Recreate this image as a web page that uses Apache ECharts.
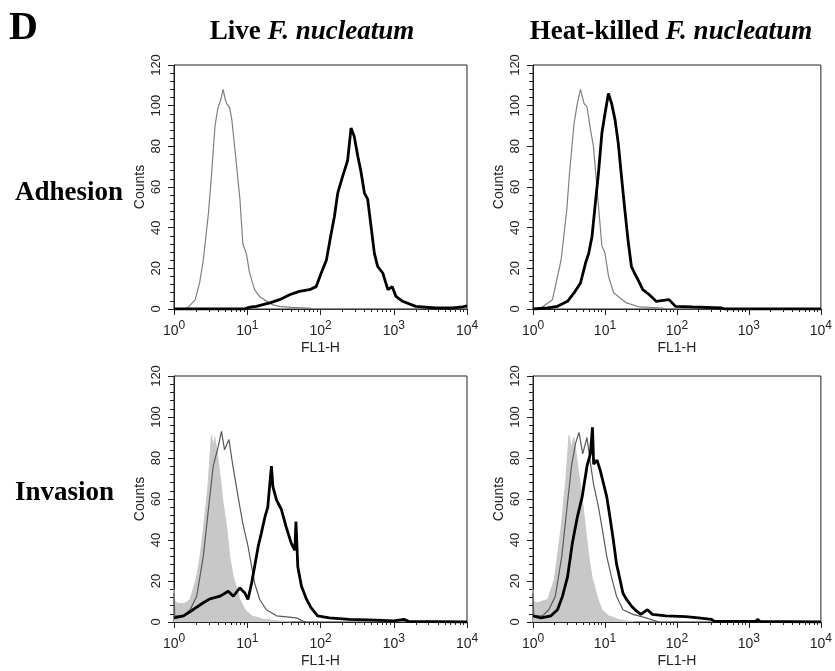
<!DOCTYPE html>
<html>
<head>
<meta charset="utf-8">
<script src="https://cdn.jsdelivr.net/npm/echarts@6/dist/echarts.min.js"></script>
<style>
  html, body { margin: 0; padding: 0; background: #fff; }
  #main { width: 835px; height: 671px; }
</style>
</head>
<body>
<div id="main"></div>
<script>
// x as log10(FL1-H), y as Counts

// Adhesion, live F. nucleatum
var adhLiveCtrlLog = [0, 0.13, 0.2, 0.29, 0.35, 0.40, 0.47, 0.51, 0.56, 0.60, 0.64, 0.67, 0.70, 0.72, 0.76, 0.79, 0.81, 0.85, 0.90, 0.94, 0.96, 0.99, 1.03, 1.10, 1.17, 1.26, 1.35, 1.44, 1.6, 1.85, 1.9, 4];
var adhLiveCtrlCnt = [0, 0, 1, 4.6, 13, 24, 47, 65, 90, 99, 103, 108, 103, 101, 99, 93, 86, 72, 54, 32, 30, 27, 18, 9.5, 6, 4, 2, 1.3, 0.8, 0.5, 0, 0];
var adhLiveLog = [0, 0.95, 1.0, 1.06, 1.125, 1.2, 1.31, 1.44, 1.58, 1.71, 1.85, 1.94, 2.01, 2.08, 2.145, 2.19, 2.235, 2.30, 2.37, 2.417, 2.46, 2.51, 2.55, 2.60, 2.644, 2.69, 2.735, 2.78, 2.85, 2.92, 2.98, 3.03, 3.12, 3.30, 3.57, 3.8, 3.94, 4];
var adhLiveCnt = [0, 0, 0.5, 1, 1.3, 2, 3, 4.6, 7, 8.7, 9.5, 11, 17.7, 24, 37, 45.5, 57, 65, 73, 89, 85, 75, 68, 57, 54, 40.6, 27.5, 21, 17.7, 9.5, 11, 6.2, 3.8, 1.3, 0.5, 0.5, 1, 1.5];

// Adhesion, heat-killed F. nucleatum
var adhHeatCtrlLog = [0, 0.11, 0.27, 0.39, 0.47, 0.51, 0.57, 0.615, 0.66, 0.71, 0.75, 0.80, 0.84, 0.89, 0.957, 1.0, 1.05, 1.12, 1.21, 1.3, 1.48, 1.8, 1.85, 4];
var adhHeatCtrlCnt = [0, 0.5, 4.6, 24, 49, 68, 91, 101, 108, 101, 99.5, 88, 80, 59, 31, 27.5, 16, 8, 5.4, 3, 1, 0.5, 0, 0];
var adhHeatLog = [0, 0.2, 0.34, 0.48, 0.57, 0.66, 0.73, 0.775, 0.82, 0.866, 0.91, 0.957, 1.0, 1.048, 1.093, 1.14, 1.185, 1.23, 1.276, 1.32, 1.367, 1.41, 1.458, 1.526, 1.617, 1.71, 1.89, 1.98, 2.21, 2.62, 2.66, 4];
var adhHeatCnt = [0, 0.5, 1.3, 3.8, 7.9, 12.8, 22.6, 27.5, 35.7, 52, 67, 86.4, 96, 106, 101, 93, 81.5, 65, 48.8, 34, 21, 17.7, 14.4, 9.5, 7, 3.8, 4.6, 1.3, 1, 0.5, 0, 0];

// Invasion, live F. nucleatum
var invLiveFillLog = [0, 0.01, 0.06, 0.14, 0.22, 0.31, 0.36, 0.40, 0.44, 0.47, 0.51, 0.535, 0.558, 0.60, 0.64, 0.67, 0.72, 0.76, 0.81, 0.85, 0.90, 0.97, 1.06, 1.22, 1.44, 1.6];
var invLiveFillCnt = [16, 10, 9, 9, 11, 22, 33, 45, 58, 69, 91, 86, 90, 80, 68, 58, 46, 32, 22, 17.4, 11, 6, 3, 1.3, 0.5, 0];
var invLiveCtrlLog = [0, 0.01, 0.13, 0.22, 0.31, 0.40, 0.47, 0.535, 0.60, 0.648, 0.69, 0.75, 0.80, 0.875, 0.94, 1.01, 1.06, 1.10, 1.17, 1.26, 1.40, 1.67, 1.76, 1.8];
var invLiveCtrlCnt = [14, 3, 3, 6, 12.6, 32, 55, 76, 85, 93, 84, 89, 77, 61, 48, 37, 27, 19, 11, 6, 3, 2, 0.5, 0];
var invLiveLog = [0, 0.13, 0.26, 0.40, 0.49, 0.63, 0.74, 0.81, 0.90, 0.97, 1.01, 1.06, 1.10, 1.15, 1.19, 1.24, 1.28, 1.33, 1.35, 1.40, 1.465, 1.53, 1.60, 1.65, 1.665, 1.69, 1.74, 1.81, 1.87, 1.96, 2.12, 2.39, 2.66, 3.0, 3.14, 3.2, 4];
var invLiveCnt = [2, 3, 6, 9.4, 11.3, 12.6, 15, 12.6, 16.6, 14, 11, 19, 27, 37, 43, 51, 56, 76, 66, 59.5, 55, 46.5, 38.5, 35, 49, 27, 17.4, 11, 7, 3, 2, 1.3, 1, 0.5, 1.3, 0.3, 0];

// Invasion, heat-killed F. nucleatum
var invHeatFillLog = [0, 0.01, 0.06, 0.205, 0.296, 0.387, 0.456, 0.50, 0.53, 0.57, 0.615, 0.68, 0.73, 0.775, 0.82, 0.89, 0.957, 1.05, 1.21, 1.4];
var invHeatFillCnt = [16, 10, 9.4, 11, 20.7, 45, 69, 91, 85, 90, 78, 61, 46, 32, 22, 12.6, 6, 3, 1, 0];
var invHeatCtrlLog = [0, 0.01, 0.13, 0.22, 0.31, 0.40, 0.47, 0.535, 0.59, 0.64, 0.69, 0.75, 0.80, 0.84, 0.91, 0.957, 1.025, 1.09, 1.16, 1.25, 1.39, 1.57, 1.75];
var invHeatCtrlCnt = [14, 3, 3, 6, 12.6, 32, 55, 76, 87, 92.5, 82, 90, 77, 67.5, 56, 46.5, 32, 22, 12.6, 6, 3.7, 2, 0];
var invHeatLog = [0, 0.11, 0.25, 0.34, 0.41, 0.48, 0.547, 0.615, 0.683, 0.75, 0.797, 0.826, 0.843, 0.89, 0.934, 0.98, 1.025, 1.07, 1.116, 1.16, 1.21, 1.25, 1.30, 1.367, 1.435, 1.50, 1.59, 1.66, 1.845, 2.12, 2.30, 2.48, 2.52, 3.1, 3.12, 3.15, 4];
var invHeatCnt = [3, 2, 3, 6, 12.6, 22, 38.5, 51, 61, 76, 82, 95, 77, 79, 74, 67.5, 61, 51, 40, 28.5, 20.5, 14, 11, 7.8, 5.4, 3.7, 6, 3.7, 3, 2.6, 2, 1.3, 0.3, 0.3, 1.3, 0.3, 0];

var yTicks = [0, 20, 40, 60, 80, 100, 120];
var decades = [1, 10, 100, 1000, 10000];

var chart = echarts.init(document.getElementById('main'));

var minorVals = [];
decades.slice(0, 4).forEach(function (d) {
  for (var k = 2; k <= 9; k++) minorVals.push(k * d);
});

function pts(logs, cnts) {
  return logs.map(function (l, i) { return [Math.pow(10, l), cnts[i]]; });
}

var grids = [
  { left: 174, top: 65, width: 293, height: 244 },
  { left: 533, top: 65, width: 293, height: 244 },
  { left: 174, top: 376, width: 293, height: 246 },
  { left: 533, top: 376, width: 293, height: 246 }
];

var ink = '#222';
var xAxes = [], yAxes = [];
grids.forEach(function (g, i) {
  g.show = true;
  g.borderColor = ink;
  g.borderWidth = 1;
  xAxes.push({
    type: 'log', gridIndex: i, min: 1, max: 10000, position: 'bottom',
    name: 'FL1-H', nameLocation: 'middle', nameGap: 32,
    nameTextStyle: { fontFamily: 'Liberation Sans', fontSize: 14, color: ink },
    axisLine: { show: true, lineStyle: { color: ink, width: 1 } },
    axisTick: { show: true, length: 6, customValues: decades, lineStyle: { color: ink } },
    axisLabel: {
      customValues: decades, margin: 11,
      formatter: function (v) { return '{b|10}{s|' + Math.round(Math.log10(v)) + '}'; },
      rich: {
        b: { fontFamily: 'Liberation Sans', fontSize: 14, color: ink, lineHeight: 22 },
        s: { fontFamily: 'Liberation Sans', fontSize: 12, color: ink, lineHeight: 6, verticalAlign: 'top' }
      }
    },
    splitLine: { show: false }
  });
  xAxes.push({
    type: 'log', gridIndex: i, min: 1, max: 10000, position: 'bottom',
    axisLine: { show: false },
    axisTick: { show: true, length: 3, customValues: minorVals, lineStyle: { color: ink } },
    axisLabel: { show: false },
    splitLine: { show: false }
  });
  yAxes.push({
    type: 'value', gridIndex: i, min: 0, max: 120, interval: 20,
    name: 'Counts', nameLocation: 'middle', nameGap: 27,
    nameTextStyle: { fontFamily: 'Liberation Sans', fontSize: 14, color: ink },
    axisLine: { show: true, lineStyle: { color: ink, width: 1 } },
    axisTick: { show: true, length: 6, lineStyle: { color: ink } },
    minorTick: { show: true, splitNumber: 5, length: 4, lineStyle: { color: ink } },
    axisLabel: {
      rotate: 90, margin: 11, fontFamily: 'Liberation Sans', fontSize: 13, color: ink,
      customValues: yTicks
    },
    splitLine: { show: false },
    minorSplitLine: { show: false }
  });
});

function histo(gi, data, color, width, fill) {
  var s = {
    type: 'line', xAxisIndex: gi * 2, yAxisIndex: gi, data: data,
    showSymbol: false, symbol: 'none', silent: true, animation: false,
    lineStyle: { color: color, width: width }
  };
  if (fill) {
    s.areaStyle = { color: fill, opacity: 1 };
    s.lineStyle = { color: fill, width: 1 };
  }
  return s;
}

function titleStyle(size) {
  return {
    fontFamily: 'Liberation Serif', fontWeight: 'bold', fontSize: size, color: '#000',
    rich: { i: { fontFamily: 'Liberation Serif', fontWeight: 'bold', fontStyle: 'italic', fontSize: size, color: '#000' } }
  };
}

chart.setOption({
  animation: false,
  backgroundColor: '#fff',
  title: [
    { text: 'D', left: 4, top: 4, textStyle: { fontFamily: 'Liberation Serif', fontWeight: 'bold', fontSize: 40, color: '#000' } },
    { text: 'Live {i|F. nucleatum}', left: 307, top: 14, textAlign: 'center', textStyle: titleStyle(27) },
    { text: 'Heat-killed {i|F. nucleatum}', left: 666, top: 14, textAlign: 'center', textStyle: titleStyle(27) },
    { text: 'Adhesion', left: 10, top: 175, textStyle: titleStyle(27) },
    { text: 'Invasion', left: 10, top: 475, textStyle: titleStyle(27) }
  ],
  grid: grids,
  xAxis: xAxes,
  yAxis: yAxes,
  series: [
    histo(0, pts(adhLiveCtrlLog, adhLiveCtrlCnt), '#808080', 1.2),
    histo(0, pts(adhLiveLog, adhLiveCnt), '#000', 2.8),
    histo(1, pts(adhHeatCtrlLog, adhHeatCtrlCnt), '#808080', 1.2),
    histo(1, pts(adhHeatLog, adhHeatCnt), '#000', 2.8),
    histo(2, pts(invLiveFillLog, invLiveFillCnt), null, 0, '#c8c8c8'),
    histo(2, pts(invLiveCtrlLog, invLiveCtrlCnt), '#5a5a5a', 1.2),
    histo(2, pts(invLiveLog, invLiveCnt), '#000', 2.8),
    histo(3, pts(invHeatFillLog, invHeatFillCnt), null, 0, '#c8c8c8'),
    histo(3, pts(invHeatCtrlLog, invHeatCtrlCnt), '#5a5a5a', 1.2),
    histo(3, pts(invHeatLog, invHeatCnt), '#000', 2.8)
  ]
});
</script>
</body>
</html>
